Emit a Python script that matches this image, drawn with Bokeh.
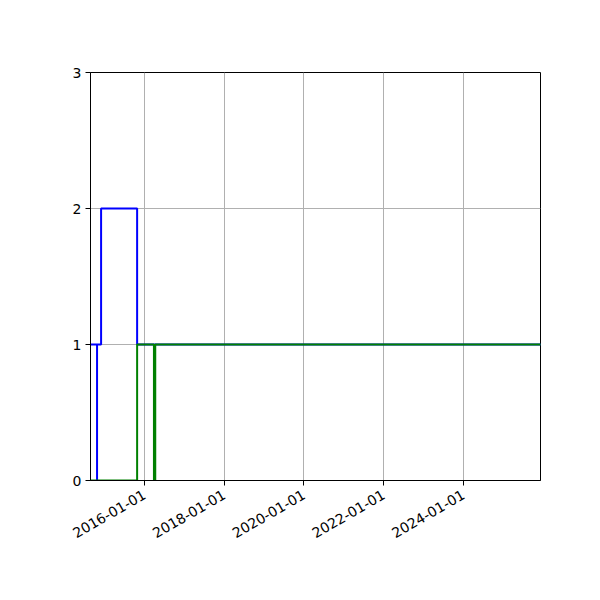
from datetime import datetime
from math import pi

from bokeh.plotting import figure
from bokeh.models import FixedTicker, DatetimeTickFormatter, Range1d
from bokeh.embed import file_html
from bokeh.resources import INLINE

# x limits of the view
x_start = datetime(2014, 8, 25)
x_end = datetime(2025, 12, 6)

# blue series: step values (held until the next date)
blue_dates = [datetime(2014, 8, 1), datetime(2014, 10, 24), datetime(2014, 10, 24),
              datetime(2014, 11, 30), datetime(2015, 10, 26), datetime(2026, 1, 1)]
blue_values = [1, 0, 1, 2, 1, 1]

# green series
green_dates = [datetime(2014, 8, 1), datetime(2015, 10, 26), datetime(2016, 3, 28),
               datetime(2016, 4, 9), datetime(2026, 1, 1)]
green_values = [0, 1, 0, 1, 1]

x_ticks = [datetime(2016, 1, 1), datetime(2018, 1, 1), datetime(2020, 1, 1),
           datetime(2022, 1, 1), datetime(2024, 1, 1)]
y_ticks = [0, 1, 2, 3]

p = figure(width=584, height=584, x_axis_type="datetime",
           x_range=Range1d(x_start, x_end), y_range=Range1d(0, 3),
           output_backend="svg", toolbar_location=None,
           min_border_left=90, min_border_right=44,
           min_border_top=72, min_border_bottom=104)

p.step(blue_dates, blue_values, mode="after", line_color="#0000ff", line_width=2)
p.step(green_dates, green_values, mode="after", line_color="#008000", line_width=2)

# ticks
p.xaxis.ticker = FixedTicker(ticks=[d.timestamp() * 1000 for d in x_ticks])
fmt = "%Y-%m-%d"
p.xaxis.formatter = DatetimeTickFormatter(
    microseconds=fmt, milliseconds=fmt, seconds=fmt, minsec=fmt, minutes=fmt,
    hourmin=fmt, hours=fmt, days=fmt, months=fmt, years=fmt)
p.xaxis.major_label_orientation = pi / 6
p.yaxis.ticker = FixedTicker(ticks=y_ticks)

for ax in (p.xaxis, p.yaxis):
    ax.axis_line_color = "black"
    ax.major_tick_line_color = "black"
    ax.major_tick_out = 5
    ax.major_tick_in = 0
    ax.minor_tick_line_color = None
    ax.major_label_text_font = "DejaVu Sans"
    ax.major_label_text_font_size = "14px"
    ax.major_label_text_color = "black"
    ax.major_label_standoff = 4
p.xaxis.major_label_standoff = 8

# grid + frame
p.grid.grid_line_color = "#b0b0b0"
p.grid.grid_line_width = 1
p.outline_line_color = "black"
p.outline_line_width = 1
p.outline_line_alpha = 1

open("out.html", "w").write(file_html(p, INLINE))
